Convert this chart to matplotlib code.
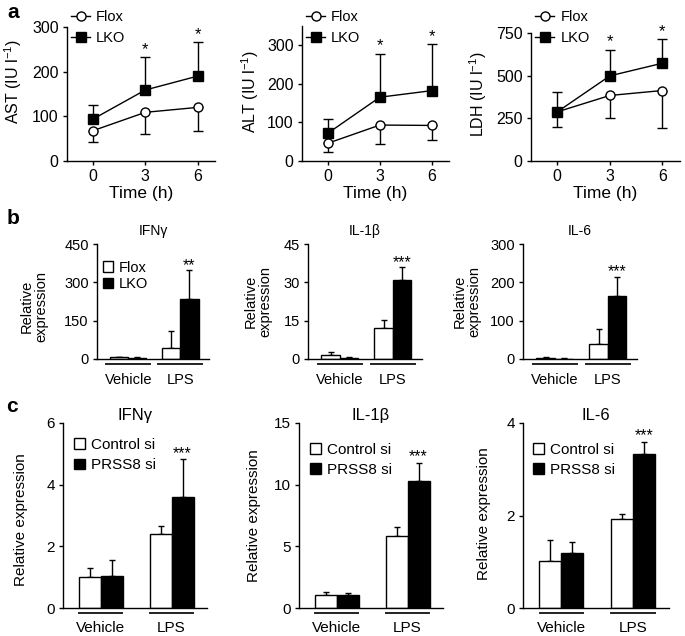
import numpy as np
import matplotlib
matplotlib.use("Agg")
import matplotlib.pyplot as plt
from matplotlib.lines import Line2D
from matplotlib.patches import Patch

plt.rcParams['font.family'] = ['Liberation Sans', 'DejaVu Sans']
plt.rcParams['mathtext.fontset'] = 'custom'
plt.rcParams['mathtext.rm'] = 'Liberation Sans'
plt.rcParams['mathtext.it'] = 'Liberation Sans:italic'
plt.rcParams['font.size'] = 10

# ---------------- data ----------------
time = [0, 3, 6]
time_ticks = [0, 3, 6]

ast_flox = [68, 109, 120]
ast_flox_err = [25, 48, 53]
ast_lko = [94, 159, 190]
ast_lko_err = [31, 73, 76]

alt_flox = [46, 93, 92]
alt_flox_err = [24, 50, 38]
alt_lko = [72, 165, 182]
alt_lko_err = [37, 112, 120]

ldh_flox = [288, 384, 413]
ldh_flox_err = [88, 134, 221]
ldh_lko = [288, 499, 573]
ldh_lko_err = [118, 153, 141]

groups = ["Vehicle", "LPS"]

b_ifng_flox = [6, 43]
b_ifng_flox_err = [3, 68]
b_ifng_lko = [3, 235]
b_ifng_lko_err = [4, 114]

b_il1b_flox = [1.7, 12.0]
b_il1b_flox_err = [1.0, 3.3]
b_il1b_lko = [0.4, 31.0]
b_il1b_lko_err = [0.4, 4.9]

b_il6_flox = [3, 40]
b_il6_flox_err = [1, 39]
b_il6_lko = [1, 164]
b_il6_lko_err = [0.5, 51]

c_ifng_ctrl = [1.0, 2.4]
c_ifng_ctrl_err = [0.31, 0.25]
c_ifng_prss8 = [1.03, 3.6]
c_ifng_prss8_err = [0.52, 1.23]

c_il1b_ctrl = [1.08, 5.87]
c_il1b_ctrl_err = [0.21, 0.67]
c_il1b_prss8 = [1.05, 10.29]
c_il1b_prss8_err = [0.16, 1.5]

c_il6_ctrl = [1.02, 1.93]
c_il6_ctrl_err = [0.44, 0.1]
c_il6_prss8 = [1.2, 3.32]
c_il6_prss8_err = [0.22, 0.27]

# ---------------- figure ----------------
W, H = 685, 636
fig = plt.figure(figsize=(W / 100, H / 100), dpi=100)


def make_ax(l, r, t, b):
    return fig.add_axes([l / W, 1 - b / H, (r - l) / W, (b - t) / H])


def style(ax, tick_fs):
    for s in ['top', 'right']:
        ax.spines[s].set_visible(False)
    for s in ['left', 'bottom']:
        ax.spines[s].set_linewidth(1.0)
    ax.tick_params(direction='out', length=3, width=1.0, labelsize=tick_fs,
                   pad=3)


# ---------- row a ----------
a_specs = [
    (67, 215, 27, 161, (0, 300), [0, 100, 200, 300], "AST (IU l$^{-1}$)",
     ast_flox, ast_flox_err, ast_lko, ast_lko_err, (-0.365, 0.59), 1.127),
    (302, 449, 25.7, 161, (0, 350), [0, 100, 200, 300], "ALT (IU l$^{-1}$)",
     alt_flox, alt_flox_err, alt_lko, alt_lko_err, (-0.35, 0.51), 1.116),
    (531, 680, 33, 161, (0, 750), [0, 250, 500, 750], "LDH (IU l$^{-1}$)",
     ldh_flox, ldh_flox_err, ldh_lko, ldh_lko_err, (-0.352, 0.52), 1.18),
]
for (l, r, t, b, ylim, yt, ylab, fl, fle, lk, lke, lc, ly) in a_specs:
    ax = make_ax(l, r, t, b)
    style(ax, 11.5)
    ax.errorbar(time, fl, yerr=[fle, [0] * 3], fmt='none', ecolor='black',
                elinewidth=1, capsize=3.5, capthick=1, zorder=2)
    ax.errorbar(time, lk, yerr=[[0] * 3, lke], fmt='none', ecolor='black',
                elinewidth=1, capsize=3.5, capthick=1, zorder=2)
    ax.plot(time, fl, '-', color='black', lw=1, marker='o', ms=6.5,
            mfc='white', mec='black', mew=1, zorder=3, clip_on=False)
    ax.plot(time, lk, '-', color='black', lw=1, marker='s', ms=6.5,
            mfc='black', mec='black', zorder=4, clip_on=False)
    for i in [1, 2]:
        ax.annotate('*', (time[i], lk[i] + lke[i]), xytext=(0, 2.5),
                    textcoords='offset points', ha='center', va='baseline',
                    fontsize=12)
    ax.set_xlim(-1.5, 7)
    ax.set_ylim(*ylim)
    ax.set_xticks(time_ticks)
    ax.set_yticks(yt)
    ax.set_xlabel("Time (h)", labelpad=1.5, fontsize=12.5)
    ax.set_ylabel(ylab, va='center', fontsize=11.5)
    ax.yaxis.set_label_coords(*lc)
    handles = [Line2D([], [], color='black', lw=1, marker='o', ms=6.5,
                      mfc='white', mec='black'),
               Line2D([], [], color='black', lw=1, marker='s', ms=6.5,
                      mfc='black', mec='black')]
    ax.legend(handles, ["Flox", "LKO"], loc='upper left',
              bbox_to_anchor=(0.03, ly), frameon=False, borderpad=0,
              borderaxespad=0, handlelength=1.3, handletextpad=0.4,
              labelspacing=0.5, fontsize=10.5)

fig.text(13 / W, 1 - 12 / H, 'a', fontsize=15, fontweight='bold',
         ha='center', va='center')
fig.text(13 / W, 1 - 219 / H, 'b', fontsize=15, fontweight='bold',
         ha='center', va='center')
fig.text(12 / W, 1 - 407 / H, 'c', fontsize=15, fontweight='bold',
         ha='center', va='center')


def bar_panel(ax, v1, e1, v2, e2, w, ylim, yt, title, stars, lab1, lab2,
              leg_anchor, lspace, line_half, line_y, lab_y, title_pad,
              star_off, lc, ylab, xlim, fs):
    tick_fs, title_fs, ylab_fs, grp_fs, leg_fs = fs
    style(ax, tick_fs)
    x = np.arange(len(groups))
    ax.bar(x - w / 2, v1, w, color='white', edgecolor='black', lw=1, zorder=2)
    ax.bar(x + w / 2, v2, w, color='black', edgecolor='black', lw=1, zorder=2)
    ax.errorbar(x - w / 2, v1, yerr=[[0] * 2, e1], fmt='none', ecolor='black',
                elinewidth=1, capsize=2.5, capthick=1, zorder=1)
    ax.errorbar(x + w / 2, v2, yerr=[[0] * 2, e2], fmt='none', ecolor='black',
                elinewidth=1, capsize=2.5, capthick=1, zorder=1)
    ax.annotate(stars, (x[1] + w / 2, v2[1] + e2[1]), xytext=(0, star_off),
                textcoords='offset points', ha='center', va='baseline',
                fontsize=11.5)
    ax.set_xlim(*xlim)
    ax.set_ylim(*ylim)
    ax.set_yticks(yt)
    ax.set_xticks([])
    ax.set_title(title, fontsize=title_fs, pad=title_pad)
    ax.set_ylabel(ylab, va='center', linespacing=1.1, fontsize=ylab_fs)
    ax.yaxis.set_label_coords(*lc)
    trans = ax.get_xaxis_transform()
    for xi, g in zip(x, groups):
        ax.plot([xi - line_half, xi + line_half], [line_y, line_y],
                color='#222222', lw=1.4, transform=trans, clip_on=False)
        ax.text(xi, lab_y, g, transform=trans, ha='center', va='center',
                fontsize=grp_fs)
    handles = [Patch(facecolor='white', edgecolor='black', lw=1),
               Patch(facecolor='black', edgecolor='black', lw=1)]
    ax.legend(handles, [lab1, lab2], loc='upper left',
              bbox_to_anchor=leg_anchor, frameon=False, borderpad=0,
              borderaxespad=0, handlelength=0.7, handleheight=0.7,
              handletextpad=0.4, labelspacing=lspace, fontsize=leg_fs)


# ---------- row b ----------
b_specs = [
    (97, 209, b_ifng_flox, b_ifng_flox_err, b_ifng_lko, b_ifng_lko_err,
     (0, 450), [0, 150, 300, 450], "IFN\u03b3", "**", (-0.56, 0.46), True),
    (308, 422, b_il1b_flox, b_il1b_flox_err, b_il1b_lko, b_il1b_lko_err,
     (0, 45), [0, 15, 30, 45], "IL-1\u03b2", "***", (-0.44, 0.5), False),
    (523, 637, b_il6_flox, b_il6_flox_err, b_il6_lko, b_il6_lko_err,
     (0, 300), [0, 100, 200, 300], "IL-6", "***", (-0.49, 0.5), False),
]
for (l, r, v1, e1, v2, e2, ylim, yt, title, stars, lc, leg) in b_specs:
    ax = make_ax(l, r, 244, 359)
    bar_panel(ax, v1, e1, v2, e2, 0.35, ylim, yt, title, stars, "Flox", "LKO",
              (0.054, 0.855), 0.15, 0.42, -0.045, -0.18, 6.5, 0, lc,
              "Relative\nexpression", (-0.6, 1.55),
              (10.5, 10, 10.5, 10.5, 10.5))
    if not leg:
        ax.get_legend().remove()

# ---------- row c ----------
c_specs = [
    (63, 207, c_ifng_ctrl, c_ifng_ctrl_err, c_ifng_prss8, c_ifng_prss8_err,
     (0, 6), [0, 2, 4, 6], "IFN\u03b3", (-0.29, 0.48), (0.076, 0.918)),
    (299, 443, c_il1b_ctrl, c_il1b_ctrl_err, c_il1b_prss8, c_il1b_prss8_err,
     (0, 15), [0, 5, 10, 15], "IL-1\u03b2", (-0.31, 0.5), (0.076, 0.893)),
    (523, 669, c_il6_ctrl, c_il6_ctrl_err, c_il6_prss8, c_il6_prss8_err,
     (0, 4), [0, 2, 4], "IL-6", (-0.27, 0.51), (0.07, 0.893)),
]
for (l, r, v1, e1, v2, e2, ylim, yt, title, lc, la) in c_specs:
    ax = make_ax(l, r, 423, 608)
    bar_panel(ax, v1, e1, v2, e2, 0.31, ylim, yt, title, "***",
              "Control si", "PRSS8 si", la, 0.4, 0.3, -0.027, -0.11, 0,
              1.0, lc, "Relative expression", (-0.53, 1.5),
              (11, 12, 11, 11, 11))

fig.savefig("out.png", dpi=100)
